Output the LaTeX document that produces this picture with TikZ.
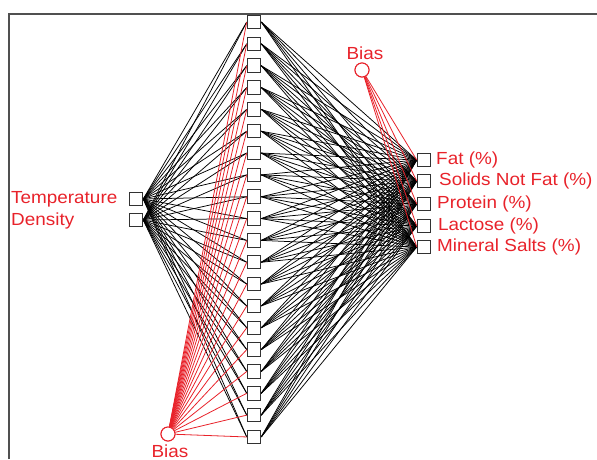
\documentclass[tikz,border=0pt]{standalone}
\usepackage{fontspec}
\setmainfont{Liberation Sans}[FakeStretch=1.08]
\definecolor{mred}{RGB}{232,34,42}
\definecolor{boxgray}{RGB}{50,50,50}
\definecolor{framegray}{RGB}{80,80,80}
\begin{document}
\begin{tikzpicture}[x=1pt,y=-1pt,
  unit/.style={draw=boxgray, fill=white, line width=1pt, minimum size=13.5pt, inner sep=0pt},
  biasnode/.style={circle, draw=mred, fill=white, line width=1pt, minimum size=14pt, inner sep=0pt},
  lbl/.style={text=mred, font=\fontsize{17.5}{19}\selectfont, inner sep=0pt},
  wb/.style={black, line width=0.75pt},
  wr/.style={mred, line width=0.8pt}]
\useasboundingbox (0,0) rectangle (597,459);
% frame
\coordinate (fa) at (9,459);
\coordinate (fb) at (9,14);
\coordinate (fc) at (597,14);
\draw[framegray, line width=1.4pt] (fa) -- (fb) -- (fc);
% nodes positions
\foreach \i in {1,...,20} {
  \coordinate (hp\i) at (254, {22 + (\i-1)*21.84});
}
\coordinate (ip1) at (136,199);
\coordinate (ip2) at (136,220);
\foreach \j/\y in {1/160,2/181,3/204,4/226,5/247} {
  \coordinate (op\j) at (424,\y);
}
% nodes (drawn first to get anchors)
\foreach \i in {1,...,20} { \node[unit] (h\i) at (hp\i) {}; }
\node[unit] (i1) at (ip1) {};
\node[unit] (i2) at (ip2) {};
\foreach \j in {1,...,5} { \node[unit] (o\j) at (op\j) {}; }
\node[biasnode] (bt) at (362,70) {};
\node[biasnode] (bb) at (168,434) {};
% connections
\foreach \i in {1,...,20} {
  \draw[wb] (i1.east) -- (h\i.west);
  \draw[wb] (i2.east) -- (h\i.west);
  \foreach \j in {1,...,5} { \draw[wb] (h\i.east) -- (o\j.west); }
}
\foreach \i in {1,...,20} { \draw[wr] (bb) -- (h\i.west); }
\foreach \j in {1,...,5} { \draw[wr] (bt) -- (o\j.west); }
% redraw nodes on top
\foreach \i in {1,...,20} { \node[unit] at (h\i) {}; }
\node[unit] at (i1) {};
\node[unit] at (i2) {};
\foreach \j in {1,...,5} { \node[unit] at (o\j) {}; }
\node[biasnode] at (bt) {};
\node[biasnode] at (bb) {};
% labels
\node[lbl, anchor=west] (lt) at (11,199) {Temperature};
\node[lbl, anchor=west] (ld) at (11,221) {Density};
\node[lbl, anchor=west] (l1) at (436,160) {Fat (\%)};
\node[lbl, anchor=west] (l2) at (439,181) {Solids Not Fat (\%)};
\node[lbl, anchor=west] (l3) at (437,204) {Protein (\%)};
\node[lbl, anchor=west] (l4) at (438,226) {Lactose (\%)};
\node[lbl, anchor=west] (l5) at (437,247) {Mineral Salts (\%)};
\node[lbl] (lbt) at (365,53) {Bias};
\node[lbl] (lbb) at (170,451) {Bias};
\end{tikzpicture}
\end{document}
